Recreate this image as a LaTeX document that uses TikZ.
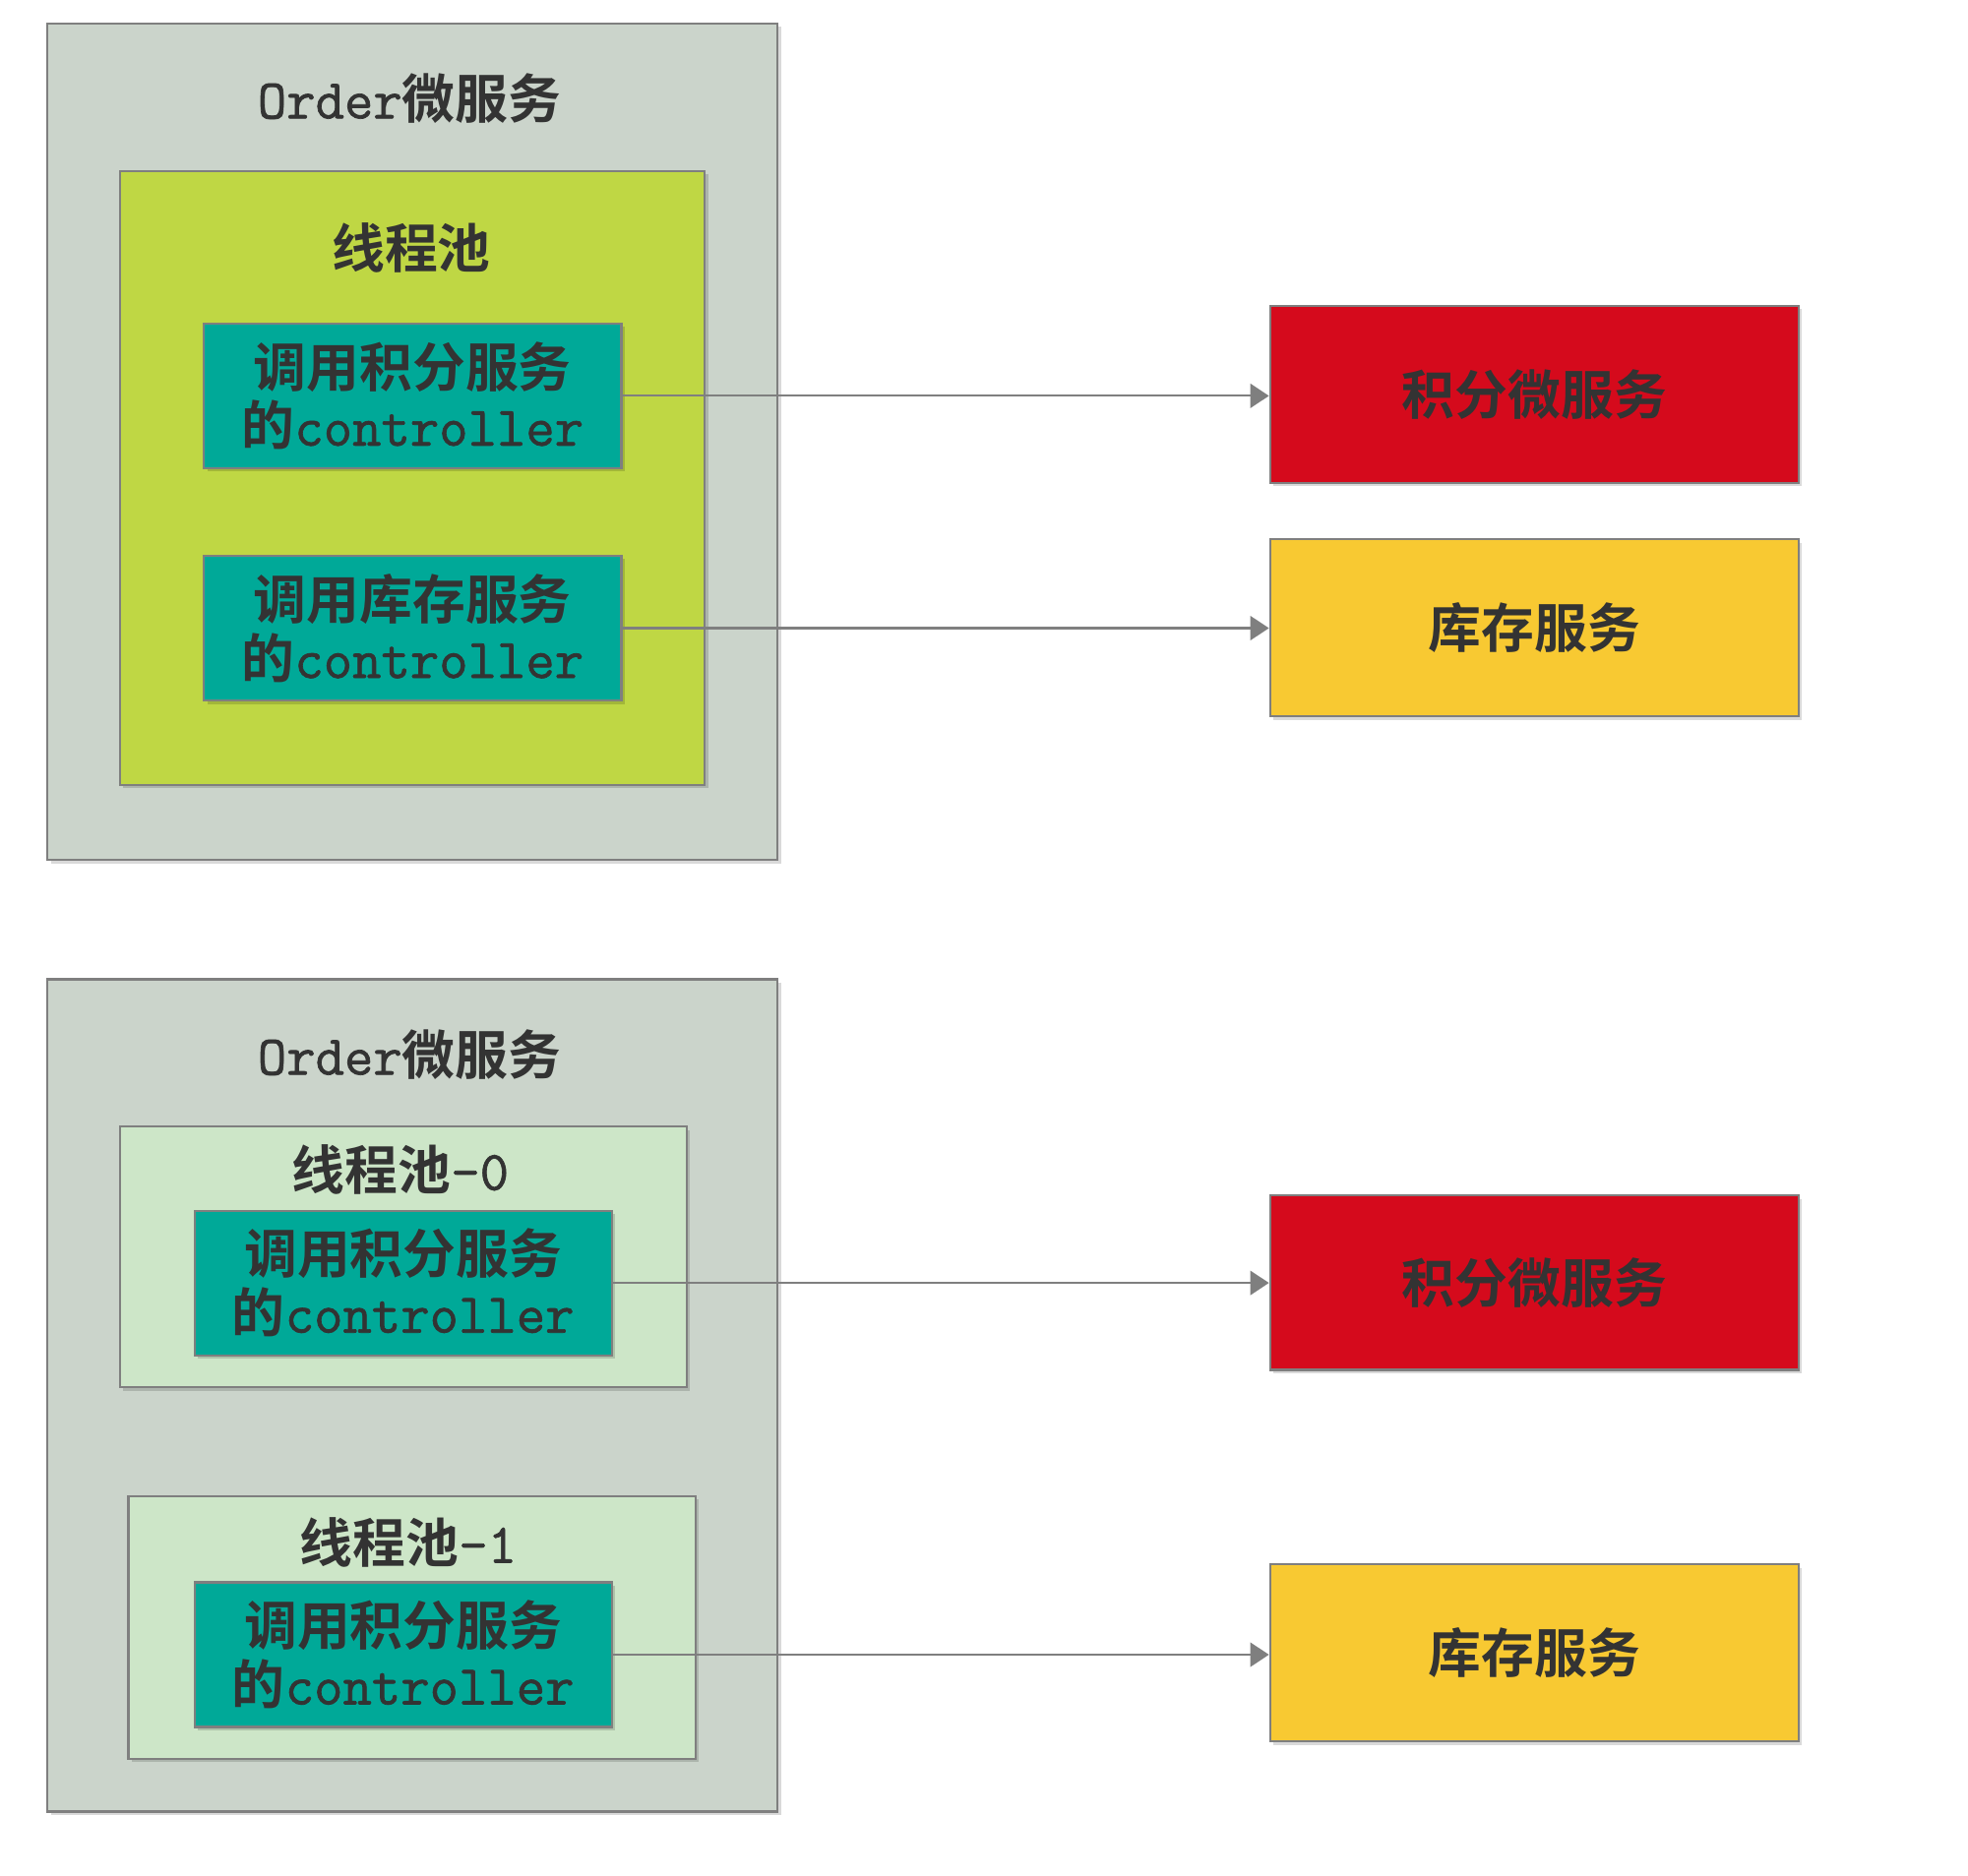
\documentclass[tikz,border=0pt]{standalone}
\usepackage{fontspec}
\setmainfont{Latin Modern Mono}[Scale=1.06, FakeBold=1.2]
\newfontfamily\zhfont{Noto Sans CJK SC Bold}
\newcommand{\zh}[1]{{\zhfont #1}}
\usepackage{tikz}
\usetikzlibrary{positioning}
\usetikzlibrary{shadows}
\usetikzlibrary{arrows.meta}

\definecolor{boxline}{HTML}{7F7F7F}
\definecolor{txt}{HTML}{333333}
\definecolor{ordergray}{HTML}{CBD4CB}
\definecolor{poolyellow}{HTML}{BFD744}
\definecolor{poolgreen}{HTML}{CDE6C8}
\definecolor{ctrlteal}{HTML}{00A998}
\definecolor{svcred}{HTML}{D50A1C}
\definecolor{svcyellow}{HTML}{F8C932}

\begin{document}
\begin{tikzpicture}[x=0.01cm, y=-0.01cm,
  every node/.style={text=txt, font=\fontsize{15.3pt}{17pt}\selectfont},
  box/.style={rectangle, draw=boxline, line width=0.6pt, inner sep=0pt,
    drop shadow={shadow xshift=1pt, shadow yshift=-1pt, fill=black, opacity=0.15}},
  order/.style={box, fill=ordergray, minimum width=7.415cm},
  ctrl/.style={box, fill=ctrlteal, align=center, minimum width=4.241cm, minimum height=1.47cm},
  svc/.style={box, minimum width=5.37cm, minimum height=1.8cm},
  >={Triangle[length=5.4pt, width=7pt]}]

\useasboundingbox (0,0) rectangle (2000,1907);

% one thread pool for both calls
\node (order_0) [order, minimum height=8.498cm] at (419.2,449.1) {};
\node (order_0_title) at (416,100) {Order\zh{微服务}};
\node (pool_0) [box, fill=poolyellow, minimum width=5.944cm, minimum height=6.236cm] at (419,485.8) {};
\node (pool_0_title) at (418,251.5) {\zh{线程池}};
\node (ctrl_0) [ctrl] at (419.35,402.4) {\zh{调用积分服务}\\\zh{的}controller};
\node (ctrl_1) [ctrl] at (419.35,638.5) {\zh{调用库存服务}\\\zh{的}controller};

\node (svc_0) [svc, fill=svcred] at (1559.3,400.9) {\zh{积分微服务}};
\node (svc_1) [svc, fill=svcyellow] at (1559.3,638.3) {\zh{库存服务}};

\draw [->, draw=boxline, line width=0.6pt] (ctrl_0.east) -- (ctrl_0.east -| svc_0.west);
\draw [->, draw=boxline, line width=0.6pt] (ctrl_1.east) -- (ctrl_1.east -| svc_1.west);

% one thread pool per call
\node (order_1) [order, minimum height=8.455cm] at (419.2,1418.5) {};
\node (order_1_title) at (416,1072) {Order\zh{微服务}};
\node (pool_1) [box, fill=poolgreen, minimum width=5.759cm, minimum height=2.649cm] at (409.75,1277.9) {};
\node (pool_1_title) at (407,1189) {\zh{线程池}-0};
\node (pool_2) [box, fill=poolgreen, minimum width=5.759cm, minimum height=2.668cm] at (418.65,1654.2) {};
\node (pool_2_title) at (415,1568) {\zh{线程池}-1};
\node (ctrl_2) [ctrl] at (409.75,1304.1) {\zh{调用积分服务}\\\zh{的}controller};
\node (ctrl_3) [ctrl] at (409.75,1682) {\zh{调用积分服务}\\\zh{的}controller};

\node (svc_2) [svc, fill=svcred, minimum height=1.772cm] at (1559.3,1303.8) {\zh{积分微服务}};
\node (svc_3) [svc, fill=svcyellow] at (1559.3,1680.2) {\zh{库存服务}};

\draw [->, draw=boxline, line width=0.6pt] (ctrl_2.east) -- (ctrl_2.east -| svc_2.west);
\draw [->, draw=boxline, line width=0.6pt] (ctrl_3.east) -- (ctrl_3.east -| svc_3.west);
\end{tikzpicture}
\end{document}
